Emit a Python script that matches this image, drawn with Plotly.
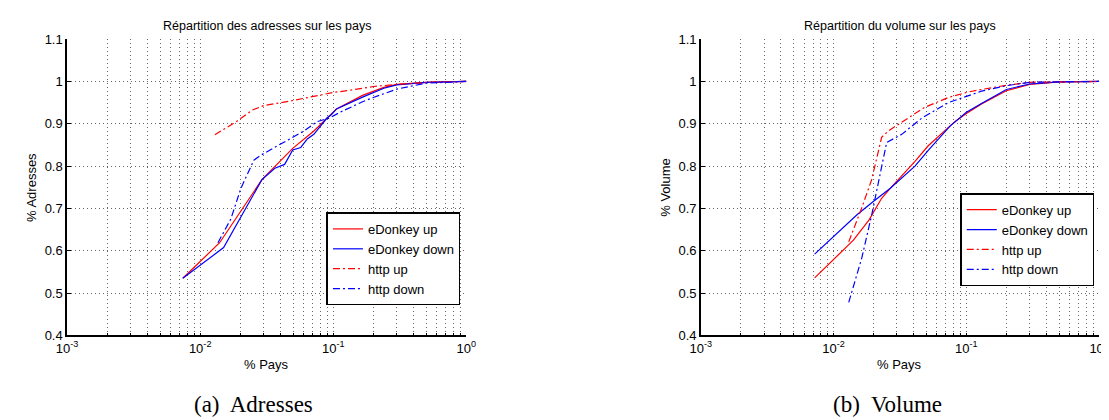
import plotly.graph_objects as go

W, H = 1109, 420

# ---- data (left: Adresses) ----
a_ed_up_x = [0.0074, 0.0140, 0.0291, 0.0496, 0.0715, 0.1057, 0.166, 0.24, 0.30, 0.5, 1.0]
a_ed_up_y = [0.535, 0.619, 0.768, 0.842, 0.883, 0.935, 0.967, 0.986, 0.993, 0.998, 1.0]
a_ed_dn_x = [0.0074, 0.0150, 0.0291, 0.0364, 0.0431, 0.0496, 0.057, 0.0638, 0.0715, 0.0893, 0.097, 0.1057, 0.166, 0.24, 0.30, 0.5, 1.0]
a_ed_dn_y = [0.535, 0.6075, 0.768, 0.795, 0.804, 0.838, 0.844, 0.864, 0.875, 0.913, 0.922, 0.935, 0.963, 0.984, 0.992, 0.998, 1.0]
a_ht_up_x = [0.0129, 0.0191, 0.0245, 0.030, 0.0482, 0.0755, 0.1, 0.133, 0.2, 0.3, 0.6, 1.0]
a_ht_up_y = [0.874, 0.907, 0.932, 0.943, 0.954, 0.966, 0.974, 0.979, 0.988, 0.993, 0.999, 1.0]
a_ht_dn_x = [0.0136, 0.0170, 0.0202, 0.0253, 0.029, 0.0407, 0.0603, 0.0755, 0.0945, 0.112, 0.133, 0.166, 0.2, 0.3, 0.5, 1.0]
a_ht_dn_y = [0.619, 0.675, 0.747, 0.814, 0.827, 0.853, 0.883, 0.905, 0.914, 0.927, 0.938, 0.952, 0.962, 0.982, 0.996, 1.0]

# ---- data (right: Volume) ----
v_ed_up_x = [0.0072, 0.0141, 0.0185, 0.0230, 0.0266, 0.0309, 0.041, 0.0516, 0.075, 0.0818, 0.1, 0.13, 0.2, 0.3, 0.5, 1.0]
v_ed_up_y = [0.536, 0.625, 0.673, 0.724, 0.747, 0.769, 0.811, 0.848, 0.894, 0.905, 0.924, 0.947, 0.978, 0.993, 0.999, 1.0]
v_ed_dn_x = [0.0072, 0.015, 0.02, 0.0266, 0.041, 0.0516, 0.075, 0.1, 0.13, 0.2, 0.3, 0.5, 1.0]
v_ed_dn_y = [0.592, 0.685, 0.717, 0.747, 0.8, 0.837, 0.894, 0.927, 0.948, 0.981, 0.994, 0.999, 1.0]
v_ht_up_x = [0.0130, 0.0163, 0.0194, 0.0230, 0.0258, 0.0307, 0.0487, 0.073, 0.103, 0.13, 0.2, 0.3, 1.0]
v_ht_up_y = [0.621, 0.7015, 0.769, 0.868, 0.883, 0.898, 0.939, 0.962, 0.975, 0.981, 0.991, 0.998, 1.0]
v_ht_dn_x = [0.0130, 0.0163, 0.0194, 0.0251, 0.0326, 0.046, 0.073, 0.103, 0.13, 0.2, 0.3, 1.0]
v_ht_dn_y = [0.478, 0.583, 0.686, 0.856, 0.875, 0.913, 0.95, 0.967, 0.977, 0.99, 0.998, 1.0]

series_names = ["eDonkey up", "eDonkey down", "http up", "http down"]
y_ticks = [0.4, 0.5, 0.6, 0.7, 0.8, 0.9, 1.0, 1.1]
y_ticktext = ["0.4", "0.5", "0.6", "0.7", "0.8", "0.9", "1", "1.1"]
major_x = [0.001, 0.01, 0.1, 1.0]
major_text = ["10<sup>-3</sup>", "10<sup>-2</sup>", "10<sup>-1</sup>", "10<sup>0</sup>"]

titles = ["Répartition des adresses sur les pays", "Répartition du volume sur les pays"]
ylabels = ["% Adresses", "% Volume"]
xlabel = "% Pays"
captions = ["(a)  Adresses", "(b)  Volume"]

RED, BLUE = "#ff0000", "#0000ff"
DASHDOT = "7px,3px,2px,3px"
SANS = "Liberation Sans, Arial, sans-serif"

# x tick positions including minor grid
xt, xtt = [], []
for i, m in enumerate(major_x[:-1]):
    for k in range(1, 10):
        xt.append(m * k)
        xtt.append(major_text[i] if k == 1 else "")
xt.append(1.0)
xtt.append(major_text[-1])

fig = go.Figure()

def add(x, y, name, color, dash, xa, ya, leg):
    fig.add_trace(go.Scatter(x=x, y=y, name=name, mode="lines",
                             line=dict(color=color, width=1.2, dash=dash),
                             xaxis=xa, yaxis=ya, legend=leg))

add(a_ed_up_x, a_ed_up_y, series_names[0], RED, "solid", "x", "y", "legend")
add(a_ed_dn_x, a_ed_dn_y, series_names[1], BLUE, "solid", "x", "y", "legend")
add(a_ht_up_x, a_ht_up_y, series_names[2], RED, DASHDOT, "x", "y", "legend")
add(a_ht_dn_x, a_ht_dn_y, series_names[3], BLUE, DASHDOT, "x", "y", "legend")
add(v_ed_up_x, v_ed_up_y, series_names[0], RED, "solid", "x2", "y2", "legend2")
add(v_ed_dn_x, v_ed_dn_y, series_names[1], BLUE, "solid", "x2", "y2", "legend2")
add(v_ht_up_x, v_ht_up_y, series_names[2], RED, DASHDOT, "x2", "y2", "legend2")
add(v_ht_dn_x, v_ht_dn_y, series_names[3], BLUE, DASHDOT, "x2", "y2", "legend2")

def px(x):
    return x / W

def py(y):
    return 1 - y / H

ax_left = [(49, 456), (695, 1101)]
y_top, y_bot = 25, 332.3

font_ax = dict(family=SANS, size=13, color="#000")

common_x = dict(type="log", range=[-3, 0], tickmode="array", tickvals=xt, ticktext=xtt,
                showgrid=True, gridcolor="#666", griddash="1px,3px", gridwidth=1,
                showline=True, linecolor="#000", linewidth=1.5, ticks="inside", ticklen=3,
                tickcolor="#000", tickfont=font_ax, zeroline=False, mirror=False)
common_y = dict(range=[0.4, 1.1], tickmode="array", tickvals=y_ticks, ticktext=y_ticktext,
                showgrid=True, gridcolor="#666", griddash="1px,3px", gridwidth=1,
                showline=True, linecolor="#000", linewidth=1.5, ticks="inside", ticklen=4,
                tickcolor="#000", tickfont=font_ax, zeroline=False, mirror=False)

leg_font = dict(family=SANS, size=13, color="#000")
fig.update_layout(
    width=W, height=H, margin=dict(l=0, r=0, t=0, b=0),
    paper_bgcolor="white", plot_bgcolor="white", showlegend=True,
    xaxis=dict(domain=[px(ax_left[0][0]), px(ax_left[0][1])], anchor="y", **common_x),
    yaxis=dict(domain=[py(y_bot), py(y_top)], anchor="x", **common_y),
    xaxis2=dict(domain=[px(ax_left[1][0]), px(ax_left[1][1])], anchor="y2", **common_x),
    yaxis2=dict(domain=[py(y_bot), py(y_top)], anchor="x2", **common_y),
    legend=dict(x=px(450), y=py(253), xanchor="right", yanchor="middle",
                bgcolor="white", bordercolor="#000", borderwidth=1.5,
                font=leg_font, tracegroupgap=0, itemwidth=30),
    legend2=dict(x=px(1096), y=py(233), xanchor="right", yanchor="middle",
                 bgcolor="white", bordercolor="#000", borderwidth=1.5,
                 font=leg_font, tracegroupgap=0, itemwidth=30),
)

anns = []
for i in range(2):
    l, r = ax_left[i]
    cx = (l + r) / 2
    anns.append(dict(text=titles[i], x=px(cx), y=py(11), xref="paper", yref="paper",
                     showarrow=False, xanchor="center", yanchor="middle",
                     font=dict(family=SANS, size=12.5, color="#000")))
    anns.append(dict(text=xlabel, x=px(cx), y=py(362), xref="paper", yref="paper",
                     showarrow=False, xanchor="center", yanchor="middle",
                     font=dict(family=SANS, size=13, color="#000")))
    anns.append(dict(text=ylabels[i], x=px(l - 36), y=py((y_top + y_bot) / 2), xref="paper", yref="paper",
                     showarrow=False, xanchor="center", yanchor="middle", textangle=-90,
                     font=dict(family=SANS, size=13, color="#000")))
    anns.append(dict(text=captions[i], x=px(cx - 13), y=py(404), xref="paper", yref="paper",
                     showarrow=False, xanchor="center", yanchor="middle",
                     font=dict(family="Liberation Serif, DejaVu Serif, serif", size=23, color="#000")))
fig.update_layout(annotations=anns)

fig.write_html("out.html")
